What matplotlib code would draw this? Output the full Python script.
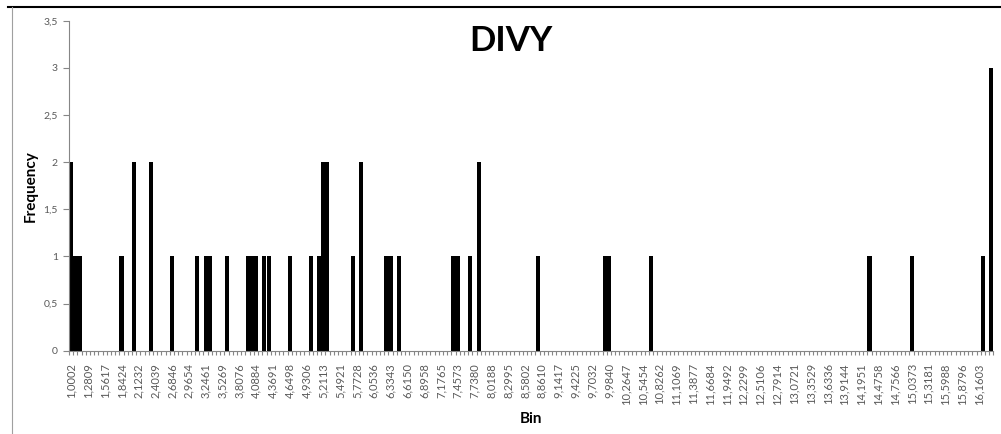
import matplotlib.pyplot as plt
from matplotlib.lines import Line2D
import numpy as np

plt.rcParams['font.family'] = ['Lato', 'DejaVu Sans']

# histogram: 220 bins, only non-empty bins listed
n_bins = 220
bin_index = [0, 1, 2, 12, 15, 19, 24, 30, 32, 33, 37, 42, 43, 44, 46, 47, 52, 57,
             59, 60, 61, 67, 69, 75, 76, 78, 91, 92, 95, 97, 111, 127, 128, 138,
             190, 200, 217, 219]
frequency = [2, 1, 1, 1, 2, 2, 1, 1, 1, 1, 1, 1, 1, 1, 1, 1, 1, 1,
             1, 2, 2, 1, 2, 1, 1, 1, 1, 1, 1, 2, 1, 1, 1, 1,
             1, 1, 1, 3]

# every 4th bin is labelled
bin_labels = ['1,0002', '1,2809', '1,5617', '1,8424', '2,1232', '2,4039', '2,6846',
              '2,9654', '3,2461', '3,5269', '3,8076', '4,0884', '4,3691', '4,6498',
              '4,9306', '5,2113', '5,4921', '5,7728', '6,0536', '6,3343', '6,6150',
              '6,8958', '7,1765', '7,4573', '7,7380', '8,0188', '8,2995', '8,5802',
              '8,8610', '9,1417', '9,4225', '9,7032', '9,9840', '10,2647', '10,5454',
              '10,8262', '11,1069', '11,3877', '11,6684', '11,9492', '12,2299',
              '12,5106', '12,7914', '13,0721', '13,3529', '13,6336', '13,9144',
              '14,1951', '14,4758', '14,7566', '15,0373', '15,3181', '15,5988',
              '15,8796', '16,1603']

counts = np.zeros(n_bins)
counts[bin_index] = frequency

fig = plt.figure(figsize=(10.01, 4.34), dpi=100)
ax = fig.add_axes([69 / 1001, (434 - 350.7) / 434, (993.5 - 69) / 1001, (350.7 - 20.7) / 434])

ax.bar(np.arange(n_bins), counts, width=0.97, color='black')

ax.set_xlim(-0.5, n_bins - 0.5)
ax.set_ylim(0, 3.5)

axis_grey = '#868686'
label_grey = '#595959'
for side in ['top', 'right']:
    ax.spines[side].set_visible(False)
for side in ['left', 'bottom']:
    ax.spines[side].set_color(axis_grey)
    ax.spines[side].set_linewidth(0.8)

yt = np.arange(0, 3.51, 0.5)
ax.set_yticks(yt)
ax.set_yticklabels([('%g' % v).replace('.', ',') for v in yt])
ax.tick_params(axis='y', length=4, width=0.8, color=axis_grey, labelcolor=label_grey,
               labelsize=7.5, pad=4)

ax.set_xticks(np.arange(0, 4 * len(bin_labels), 4))
ax.set_xticklabels(bin_labels, rotation=90)
ax.set_xticks(np.arange(n_bins + 1) - 0.5, minor=True)
ax.tick_params(axis='x', which='major', length=0, labelcolor=label_grey, labelsize=8, pad=9)
ax.tick_params(axis='x', which='minor', length=3, width=0.8, color=axis_grey)

ax.set_xlabel('Bin', fontsize=11, fontweight='bold', labelpad=5)
ax.set_ylabel('Frequency', fontsize=11, fontweight='bold', labelpad=4)
fig.text(0.51, 0.905, 'DIVY', fontsize=25, fontweight='bold', ha='center', va='center')

# chart frame edges visible in the crop
fig.add_artist(Line2D([8 / 1001, 1.0], [1 - 6.5 / 434, 1 - 6.5 / 434], color='black', lw=1.5))
fig.add_artist(Line2D([11.5 / 1001, 11.5 / 1001], [0, 1 - 7 / 434], color='#a0a0a0', lw=0.8))

fig.savefig('out.png', dpi=100)
